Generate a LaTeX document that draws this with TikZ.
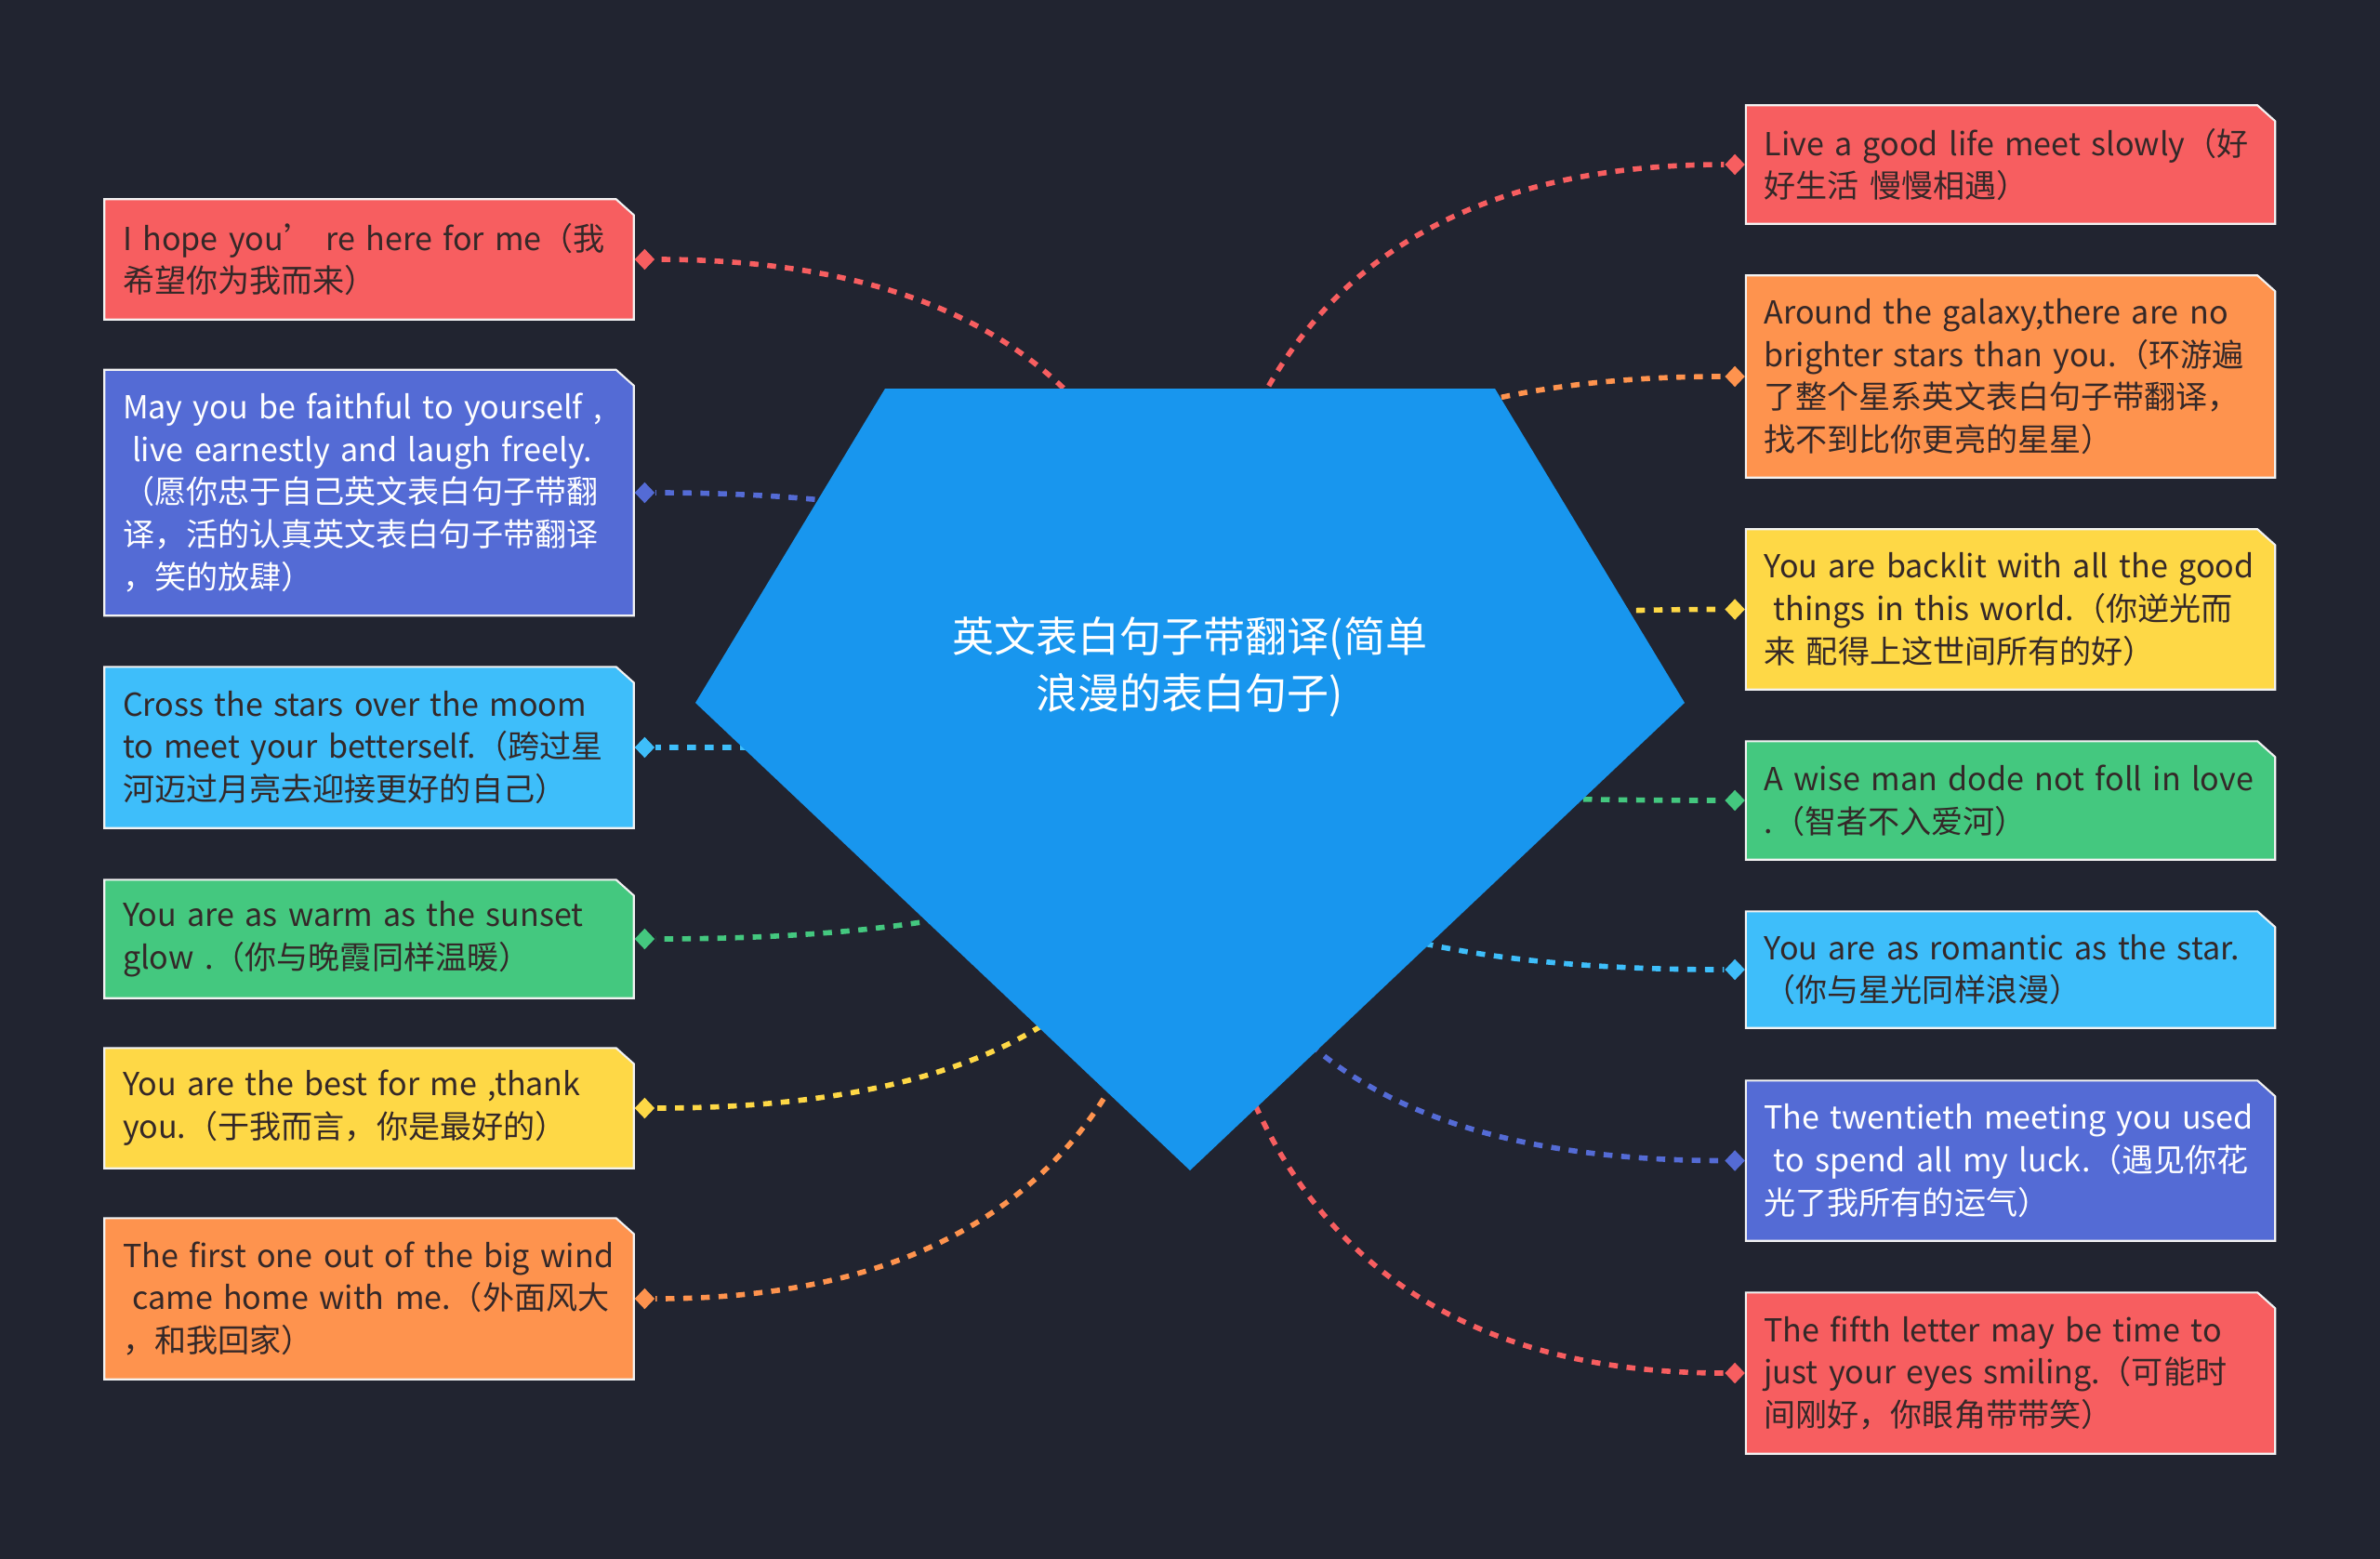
\documentclass[tikz,border=0pt]{standalone}
\usepackage{fontspec}
\setmainfont{Noto Sans CJK SC}
\usetikzlibrary{shapes.geometric,positioning,calc}
\definecolor{PageBg}{RGB}{33,36,48}
\definecolor{RootBlue}{RGB}{24,150,238}
\definecolor{LeafRed}{RGB}{247,94,96}
\definecolor{LeafIndigo}{RGB}{84,107,213}
\definecolor{LeafSky}{RGB}{62,190,250}
\definecolor{LeafGreen}{RGB}{68,200,127}
\definecolor{LeafYellow}{RGB}{254,216,70}
\definecolor{LeafOrange}{RGB}{254,147,78}
\definecolor{InkDark}{RGB}{52,40,40}
\pgfdeclarelayer{back}
\pgfsetlayers{back,main}

\begin{document}
\begin{tikzpicture}[
    leaf/.style={rectangle, text=InkDark, inner xsep=0.19cm, inner ysep=0pt,
      minimum width=5.68cm, text width=5.30cm, align=left,
      font=\fontsize{9.7}{13}\selectfont},
    port/.style={diamond, fill=#1, inner sep=0pt, minimum width=0.22cm, minimum height=0.23cm},
    link/.style={draw=#1, line width=1.6pt, dash pattern=on 2.7pt off 2.7pt},
    branch/.style={to path={.. controls ($(\tikztostart)!.667!(\tikztostart |- \tikztotarget)$)
      and ($(\tikztotarget)!.667!(\tikztostart |- \tikztotarget)$) .. (\tikztotarget)}}
  ]
  \useasboundingbox (0,0) rectangle (25.6,-16.77);

  % Root
  \fill[RootBlue] (9.52,-4.18) -- (16.08,-4.18) -- (18.12,-7.56) -- (12.80,-12.59) -- (7.48,-7.56) -- cycle;
  \node[text=white, align=center, font=\fontsize{12.8}{17.3}\selectfont] (root) at (12.80,-7.17)
    {英文表白句子带翻译(简单\\浪漫的表白句子)};
  \coordinate (hub) at (12.80,-8.00);

  % Left leaves
  \node[leaf, minimum height=1.28cm] (l1) at (3.97,-2.79)
    {I hope you’ re here for me（我\\希望你为我而来）};
  \node[leaf, text=white, minimum height=2.63cm] (l2) at (3.97,-5.30)
    {May you be faithful to yourself ,\\\hspace*{.3em}live earnestly and laugh freely.\\（愿你忠于自己英文表白句子带翻\\译，活的认真英文表白句子带翻译\\，笑的放肆）};
  \node[leaf, minimum height=1.72cm] (l3) at (3.97,-8.04)
    {Cross the stars over the moom\\to meet your betterself.（跨过星\\河迈过月亮去迎接更好的自己）};
  \node[leaf, minimum height=1.26cm] (l4) at (3.97,-10.10)
    {You are as warm as the sunset\\glow .（你与晚霞同样温暖）};
  \node[leaf, minimum height=1.28cm] (l5) at (3.97,-11.92)
    {You are the best for me ,thank\\you.（于我而言，你是最好的）};
  \node[leaf, minimum height=1.72cm] (l6) at (3.97,-13.97)
    {The first one out of the big wind\\\hspace*{.3em}came home with me.（外面风大\\，和我回家）};

  % Right leaves
  \node[leaf, minimum height=1.26cm] (r1) at (21.625,-1.77)
    {Live a good life meet slowly（好\\好生活 慢慢相遇）};
  \node[leaf, minimum height=2.16cm] (r2) at (21.625,-4.05)
    {Around the galaxy,there are no\\brighter stars than you.（环游遍\\了整个星系英文表白句子带翻译，\\找不到比你更亮的星星）};
  \node[leaf, minimum height=1.71cm] (r3) at (21.625,-6.555)
    {You are backlit with all the good\\\hspace*{.3em}things in this world.（你逆光而\\来 配得上这世间所有的好）};
  \node[leaf, minimum height=1.26cm] (r4) at (21.625,-8.61)
    {A wise man dode not foll in love\\.（智者不入爱河）};
  \node[leaf, minimum height=1.24cm] (r5) at (21.625,-10.43)
    {You are as romantic as the star.\\（你与星光同样浪漫）};
  \node[leaf, text=white, minimum height=1.71cm] (r6) at (21.625,-12.485)
    {The twentieth meeting you used\\\hspace*{.3em}to spend all my luck.（遇见你花\\光了我所有的运气）};
  \node[leaf, minimum height=1.72cm] (r7) at (21.625,-14.77)
    {The fifth letter may be time to\\just your eyes smiling.（可能时\\间刚好，你眼角带带笑）};

  % Ports
  \node[port=LeafRed, right=0cm of l1] (l1p) {};
  \node[port=LeafIndigo, right=0cm of l2] (l2p) {};
  \node[port=LeafSky, right=0cm of l3] (l3p) {};
  \node[port=LeafGreen, right=0cm of l4] (l4p) {};
  \node[port=LeafYellow, right=0cm of l5] (l5p) {};
  \node[port=LeafOrange, right=0cm of l6] (l6p) {};
  \node[port=LeafRed, left=0cm of r1] (r1p) {};
  \node[port=LeafOrange, left=0cm of r2] (r2p) {};
  \node[port=LeafYellow, left=0cm of r3] (r3p) {};
  \node[port=LeafGreen, left=0cm of r4] (r4p) {};
  \node[port=LeafSky, left=0cm of r5] (r5p) {};
  \node[port=LeafIndigo, left=0cm of r6] (r6p) {};
  \node[port=LeafRed, left=0cm of r7] (r7p) {};

  % Background, leaf boxes and connectors
  \begin{pgfonlayer}{back}
    \fill[PageBg] (0,0) rectangle (25.6,-16.77);
    \foreach \n/\c in {l1/LeafRed, l2/LeafIndigo, l3/LeafSky, l4/LeafGreen, l5/LeafYellow, l6/LeafOrange,
        r1/LeafRed, r2/LeafOrange, r3/LeafYellow, r4/LeafGreen, r5/LeafSky, r6/LeafIndigo, r7/LeafRed}
      \filldraw[fill=\c, draw=white!90!gray, line width=0.6pt] (\n.south west) -- (\n.north west)
        -- ([xshift=-0.19cm]\n.north east) -- ([yshift=-0.17cm]\n.north east) -- (\n.south east) -- cycle;
    \draw[link=LeafRed] (hub) to[branch] (l1p);
    \draw[link=LeafIndigo] (hub) to[branch] (l2p);
    \draw[link=LeafSky] (hub) to[branch] (l3p);
    \draw[link=LeafGreen] (hub) to[branch] (l4p);
    \draw[link=LeafYellow] (hub) to[branch] (l5p);
    \draw[link=LeafOrange] (hub) to[branch] (l6p);
    \draw[link=LeafRed] (hub) to[branch] (r1p);
    \draw[link=LeafOrange] (hub) to[branch] (r2p);
    \draw[link=LeafYellow] (hub) to[branch] (r3p);
    \draw[link=LeafGreen] (hub) to[branch] (r4p);
    \draw[link=LeafSky] (hub) to[branch] (r5p);
    \draw[link=LeafIndigo] (hub) to[branch] (r6p);
    \draw[link=LeafRed] (hub) to[branch] (r7p);
  \end{pgfonlayer}
\end{tikzpicture}
\end{document}
